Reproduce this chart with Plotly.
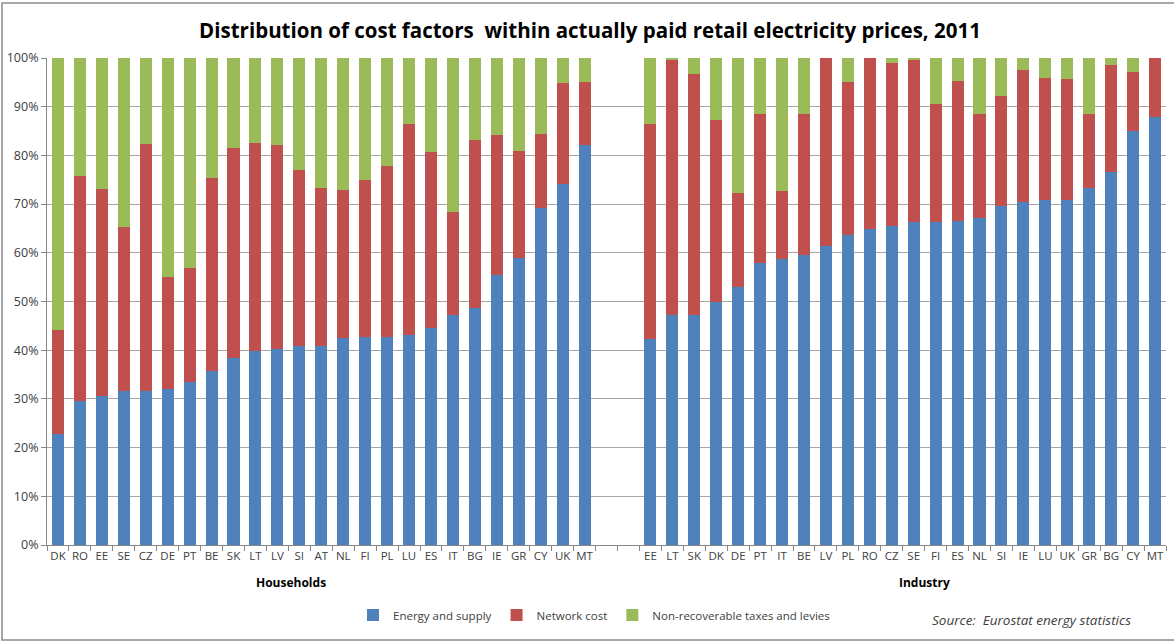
import plotly.graph_objects as go

# ---- data ----
households = ["DK","RO","EE","SE","CZ","DE","PT","BE","SK","LT","LV","SI","AT","NL","FI","PL","LU","ES","IT","BG","IE","GR","CY","UK","MT"]
hh_energy = [22.7,29.5,30.5,31.7,31.6,32.0,33.5,35.8,38.4,39.9,40.3,40.8,40.9,42.6,42.7,42.7,43.1,44.5,47.3,48.6,55.4,58.9,69.3,74.1,82.1]
hh_energy_plus_network = [44.2,75.8,73.2,65.4,82.4,55.1,56.8,75.3,81.6,82.6,82.1,77.1,73.3,72.9,75.0,77.9,86.4,80.6,68.3,83.1,84.2,81.0,84.4,94.9,95.1]

industry = ["EE","LT","SK","DK","DE","PT","IT","BE","LV","PL","RO","CZ","SE","FI","ES","NL","SI","IE","LU","UK","GR","BG","CY","MT"]
ind_energy = [42.3,47.3,47.3,50.0,52.9,58.0,58.8,59.5,61.3,63.7,64.9,65.5,66.4,66.4,66.6,67.1,69.7,70.5,70.9,70.9,73.3,76.6,85.1,87.9]
ind_energy_plus_network = [86.4,99.7,96.8,87.3,72.3,88.6,72.6,88.4,100.0,95.1,100.0,99.0,99.5,90.6,95.3,88.6,92.3,97.5,95.9,95.7,88.4,98.6,97.1,100.0]

series_names = ["Energy and supply", "Network cost", "Non-recoverable taxes and levies"]
colors = ["#4F81BD", "#C0504D", "#9BBB59"]
group_titles = ["Households", "Industry"]
gap = 2  # empty category slots between groups

# ---- derived ----
labels = households + industry
energy = [v / 100 for v in hh_energy + ind_energy]
top_en = hh_energy_plus_network + ind_energy_plus_network
network = [(t - e) / 100 for t, e in zip(top_en, hh_energy + ind_energy)]
taxes = [(100 - t) / 100 for t in top_en]
xpos = list(range(len(households))) + [len(households) + gap + i for i in range(len(industry))]
n_slots = len(households) + gap + len(industry)

FONT = "'Open Sans', Carlito, sans-serif"
W, H = 1174, 643
L, R, T, B = 47, 8, 58, 98
PW, PH = W - L - R, H - T - B

fig = go.Figure()
for name, vals, col in zip(series_names, [energy, network, taxes], colors):
    fig.add_trace(go.Bar(x=xpos, y=vals, name=name, marker=dict(color=col, line=dict(width=0)),
                         width=0.55))

fig.update_layout(
    barmode="stack",
    width=W, height=H,
    margin=dict(l=L, r=R, t=T, b=B, autoexpand=False),
    paper_bgcolor="white", plot_bgcolor="white",
    font=dict(family=FONT, size=12, color="#404040"),
    title=dict(text="<b>Distribution of cost factors  within actually paid retail electricity prices, 2011</b>",
               x=590 / W, xanchor="center", y=1 - 31 / H, yanchor="middle",
               font=dict(family=FONT, size=20.5, color="#000000")),
    showlegend=True,
    legend=dict(orientation="h", x=(594 - L) / PW, xanchor="center", y=(H - B - 615) / PH, yanchor="middle",
                font=dict(family=FONT, size=11.5, color="#404040"), traceorder="normal",
                itemwidth=30, tracegroupgap=0),
    bargap=0.45,
)

fig.update_xaxes(
    range=[-0.5, n_slots - 0.5],
    tickmode="array", tickvals=xpos, ticktext=labels, ticks="",
    tickfont=dict(family=FONT, size=11.5, color="#404040"),
    showgrid=False, zeroline=False,
    showline=True, linecolor="#868686", linewidth=1,
    minor=dict(tickmode="linear", tick0=0.5, dtick=1, ticks="outside", ticklen=5,
               tickcolor="#868686", showgrid=False),
)
fig.update_yaxes(
    range=[0, 1], dtick=0.1, tickformat=".0%",
    ticks="outside", ticklen=5, tickcolor="#868686",
    tickfont=dict(family=FONT, size=12.5, color="#404040"),
    showgrid=True, gridcolor="#A6A6A6", gridwidth=1,
    zeroline=False, showline=True, linecolor="#868686", linewidth=1,
)

# group labels (positioned as in the original layout)
for txt, px in zip(group_titles, [291, 924]):
    fig.add_annotation(x=(px - L) / PW, xref="paper", y=(H - B - 582) / PH, yref="paper",
                       text="<b>" + txt + "</b>", showarrow=False,
                       xanchor="center", yanchor="middle",
                       font=dict(family=FONT, size=12, color="#000000"))

fig.add_annotation(x=(1133 - L) / PW, xref="paper", y=(H - B - 620) / PH, yref="paper",
                   text="<i>Source:  Eurostat energy statistics</i>", showarrow=False,
                   xanchor="right", yanchor="middle",
                   font=dict(family=FONT, size=13.5, color="#404040"))

# outer chart frame
fig.add_shape(type="rect", xref="paper", yref="paper",
              x0=(2 - L) / PW, x1=(1185 - L) / PW,
              y0=(H - B - 640) / PH, y1=(H - B - 3) / PH,
              line=dict(color="#8C8C8C", width=1.5), fillcolor="rgba(0,0,0,0)", layer="below")

fig.write_html("out.html", config={"displayModeBar": False},
               post_script="document.body.style.margin='0';document.body.style.overflow='hidden';")
